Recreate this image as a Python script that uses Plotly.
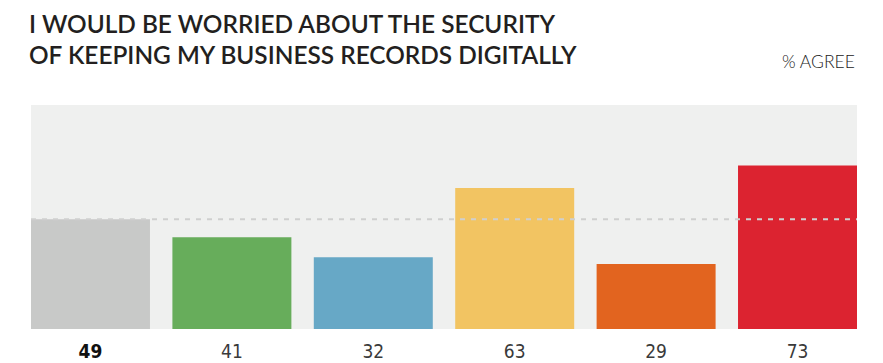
import plotly.graph_objects as go

categories = ["Total", "Group A", "Group B", "Group C", "Group D", "Group E"]
values = [49, 41, 32, 63, 29, 73]
colors = ["#C8C9C8", "#67AD5B", "#67A8C6", "#F2C462", "#E2641F", "#DC2330"]
tick_labels = ['<span style="color:#111111"><b>49</b></span>', "41", "32", "63", "29", "73"]
title_lines = ["I WOULD BE WORRIED ABOUT THE SECURITY", "OF KEEPING MY BUSINESS RECORDS DIGITALLY"]
average = 49

W, H = 883, 363
ML, MR, MT, MB = 31, 26, 105, 34
PH = H - MT - MB


def py(pix):
    return (H - MB - pix) / PH


fig = go.Figure(go.Bar(
    x=categories, y=values,
    marker=dict(color=colors, line=dict(width=0)),
    width=0.8415,
    hoverinfo="skip",
))

fig.add_shape(type="line", xref="paper", x0=0, x1=1, yref="y", y0=average, y1=average,
              line=dict(color="#CFCFCF", width=2, dash="5px,6px"), layer="above")

annotations = []
for i, line in enumerate(title_lines):
    annotations.append(dict(
        text=line, xref="paper", yref="paper", x=0, xshift=-4, xanchor="left",
        y=py(23 + 32 * i), yanchor="middle", showarrow=False,
        font=dict(family="Lato", size=24.4, color="#231F20", weight=600),
    ))
annotations.append(dict(
    text="% AGREE", xref="paper", yref="paper", x=1, xanchor="right",
    y=py(62), yanchor="middle", showarrow=False,
    font=dict(family="Lato", size=17.5, color="#222222", weight=300),
))

fig.update_layout(
    width=W, height=H,
    margin=dict(l=ML, r=MR, t=MT, b=MB, pad=0, autoexpand=False),
    paper_bgcolor="white", plot_bgcolor="#EFF0EF",
    showlegend=False,
    annotations=annotations,
    xaxis=dict(
        range=[-0.4207, 5.4207], showgrid=False, zeroline=False, showline=False,
        tickmode="array", tickvals=categories, ticktext=tick_labels, automargin=False,
        ticks="", ticklen=0, ticklabelstandoff=9,
        tickfont=dict(family="DejaVu Sans Condensed, Roboto, sans-serif", size=19, color="#3A3A3A", weight=300),
        fixedrange=True,
    ),
    yaxis=dict(range=[0, 100], visible=False, fixedrange=True, automargin=False),
)

fig.write_html("out.html")
